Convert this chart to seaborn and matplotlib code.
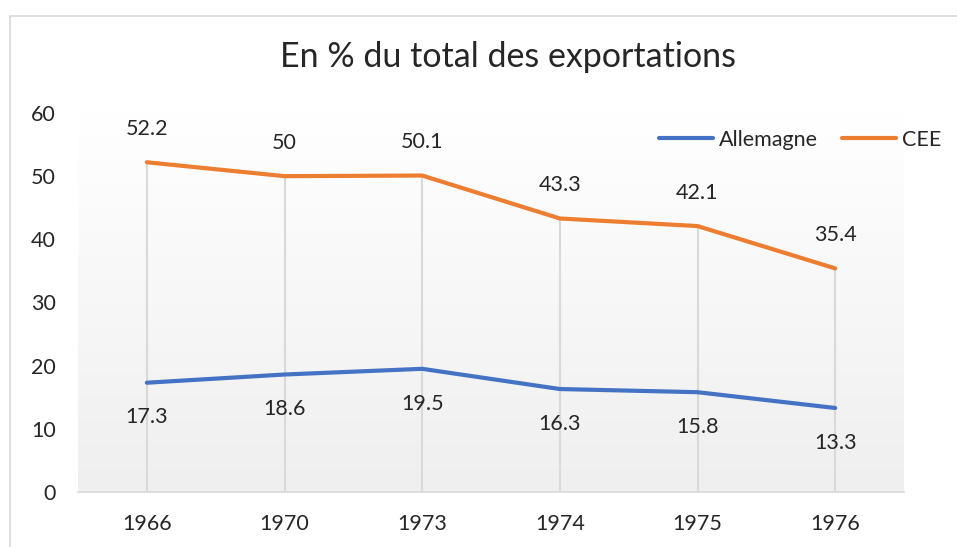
import numpy as np
import pandas as pd
import seaborn as sns
import matplotlib.pyplot as plt
from matplotlib.patches import Rectangle

years = ['1966', '1970', '1973', '1974', '1975', '1976']
allemagne = [17.3, 18.6, 19.5, 16.3, 15.8, 13.3]
cee = [52.2, 50, 50.1, 43.3, 42.1, 35.4]
series = ['Allemagne', 'CEE']
colors = {'Allemagne': '#4472C4', 'CEE': '#ED7D31'}

df = pd.DataFrame({
    'annee': years * 2,
    'valeur': allemagne + cee,
    'serie': ['Allemagne'] * len(years) + ['CEE'] * len(years),
})

sns.set_style("white")
plt.rcParams['font.family'] = ['Lato', 'DejaVu Sans']

fig = plt.figure(figsize=(9.57, 5.47), dpi=100)
ax = fig.add_axes([78 / 957, 55 / 547, 826 / 957, 379 / 547])

# frame of the chart box (cut at right/bottom like the original)
fig.patches.append(Rectangle((10 / 957, -0.1), 1.2, (547 - 16) / 547 + 0.1,
                             transform=fig.transFigure, fill=False,
                             edgecolor='#D9D9D9', linewidth=1.2))

# gradient background of plot area
grad = np.linspace(1, 0, 256).reshape(-1, 1)
ax.imshow(grad, extent=[0, 1, 0, 1], transform=ax.transAxes, aspect='auto',
          cmap=sns.blend_palette(['#EFEFEF', '#FFFFFF'], as_cmap=True),
          zorder=0)

sns.lineplot(data=df, x='annee', y='valeur', hue='serie', palette=colors,
             linewidth=3, ax=ax, legend=False, zorder=3, sort=False)

# drop lines from highest point to axis
top = df.groupby('annee', sort=False)['valeur'].max()
ax.vlines(range(len(years)), 0, top.values, color='#D9D9D9', linewidth=1.5,
          zorder=2)

for i, v in enumerate(cee):
    ax.annotate(f'{v:g}', (i, v), xytext=(0, 24), textcoords='offset points',
                ha='center', va='center', fontsize=15.5)
for i, v in enumerate(allemagne):
    ax.annotate(f'{v:g}', (i, v), xytext=(0, -25), textcoords='offset points',
                ha='center', va='center', fontsize=15.5)

ax.set_xlim(-0.5, len(years) - 0.5)
ax.set_ylim(0, 60)
ax.set_yticks(range(0, 61, 10))
ax.set_xlabel('')
ax.set_ylabel('')
ax.tick_params(axis='both', labelsize=15.5, length=0)
ax.tick_params(axis='y', pad=16)
ax.tick_params(axis='x', pad=16)
for s in ['top', 'right', 'left']:
    ax.spines[s].set_visible(False)
ax.spines['bottom'].set_color('#D9D9D9')
ax.spines['bottom'].set_linewidth(1.2)
ax.grid(False)

handles = [plt.Line2D([], [], color=colors[s], linewidth=3) for s in series]
fig.legend(handles, series, loc='center right',
           bbox_to_anchor=(941 / 957, (547 - 140) / 547), ncol=2,
           frameon=False, fontsize=15.5, handlelength=2.5, handletextpad=0.25,
           columnspacing=1.15, borderpad=0, borderaxespad=0)

fig.text(508 / 957, (547 - 57) / 547, 'En % du total des exportations',
         ha='center', va='center', fontsize=24.5)

fig.savefig('out.png', dpi=100)
